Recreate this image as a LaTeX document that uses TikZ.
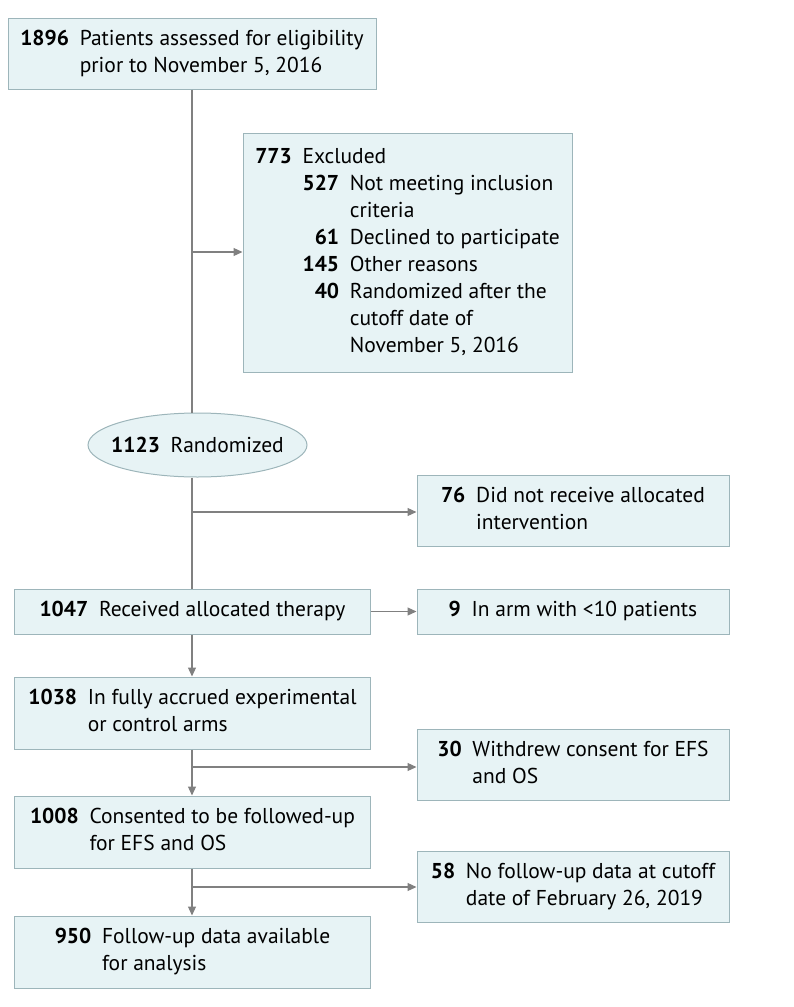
\documentclass[tikz,border=0pt]{standalone}
\usepackage{fontspec}
\setmainfont{PT Sans}
\usetikzlibrary{shapes.geometric,arrows.meta}
\definecolor{boxfill}{HTML}{E7F3F5}
\definecolor{boxline}{HTML}{9DB5BA}
\definecolor{flowline}{HTML}{808080}
\newcommand{\entry}[1]{\begin{tabular}{@{}r@{\hspace{0.5em}}l@{}}#1\end{tabular}}
\begin{document}
\begin{tikzpicture}[x=1pt,y=-1pt]
	\tikzset{box/.style={draw=boxline, fill=boxfill, line width=1pt, inner sep=0pt, font=\fontsize{21.5}{27}\selectfont}}
	\tikzset{left/.style={box, minimum width=356pt, minimum height=72pt}}
	\tikzset{right/.style={box, minimum width=312pt, minimum height=71pt}}
	\tikzset{link/.style={draw=flowline, line width=1.2pt}}
	\tikzset{arrow/.style={link, -{Triangle[length=9pt, width=8pt]}}}
	\useasboundingbox (0,0) rectangle (794,1007);

	\node[box, minimum width=368pt, minimum height=71pt] (screen) at (192,53.5) {\entry{\textbf{1896} & Patients assessed for eligibility\\ & prior to November 5, 2016}};
	\node[box, minimum width=329pt, minimum height=239pt] (excl) at (407.5,252.5) {\begin{tabular}{@{}r@{\hspace{0.5em}}r@{\hspace{0.5em}}l@{}}
		\textbf{773} & \multicolumn{2}{@{}l@{}}{Excluded}\\
		& \textbf{527} & Not meeting inclusion\\
		& & criteria\\
		& \textbf{61} & Declined to participate\\
		& \textbf{145} & Other reasons\\
		& \textbf{40} & Randomized after the\\
		& & cutoff date of\\
		& & November 5, 2016
	\end{tabular}};
	\node[box, ellipse, minimum width=219pt, minimum height=64pt] (rand) at (197.5,445) {\makebox[0pt]{\textbf{1123}\hspace{0.5em}Randomized}};
	\node[right] (noalloc) at (573,510.5) {\entry{\textbf{76} & Did not receive allocated\\ & intervention}};
	\node[left, minimum height=45pt] (recv) at (192.5,611.5) {\entry{\textbf{1047} & Received allocated therapy}};
	\node[right, minimum height=45pt] (small) at (573,611.5) {\entry{\textbf{9} & In arm with <10 patients}};
	\node[left] (full) at (192.5,713) {\entry{\textbf{1038} & In fully accrued experimental\\ & or control arms}};
	\node[right] (withdr) at (573,764.5) {\entry{\textbf{30} & Withdrew consent for EFS\\ & and OS}};
	\node[left] (cons) at (192.5,832) {\entry{\textbf{1008} & Consented to be followed-up\\ & for EFS and OS}};
	\node[right] (nofu) at (573,886.5) {\entry{\textbf{58} & No follow-up data at cutoff\\ & date of February 26, 2019}};
	\node[left] (avail) at (192.5,952) {\entry{\textbf{950} & Follow-up data available\\ & for analysis}};

	% spine with side branches
	\coordinate (b1) at (192,252);
	\coordinate (b2) at (192,512);
	\coordinate (b3) at (192,767);
	\coordinate (b4) at (192,887);
	\draw[link] (screen.south) -- (screen.south |- rand.north);
	\draw[arrow] (b1) -- (b1 -| excl.west);
	\draw[link] (screen.south |- rand.south) -- (screen.south |- recv.north);
	\draw[arrow] (b2) -- (b2 -| noalloc.west);
	\draw[arrow] (recv.east) -- (small.west);
	\draw[arrow] (screen.south |- recv.south) -- (screen.south |- full.north);
	\draw[arrow] (screen.south |- full.south) -- (screen.south |- cons.north);
	\draw[arrow] (b3) -- (b3 -| withdr.west);
	\draw[arrow] (screen.south |- cons.south) -- (screen.south |- avail.north);
	\draw[arrow] (b4) -- (b4 -| nofu.west);
\end{tikzpicture}
\end{document}
